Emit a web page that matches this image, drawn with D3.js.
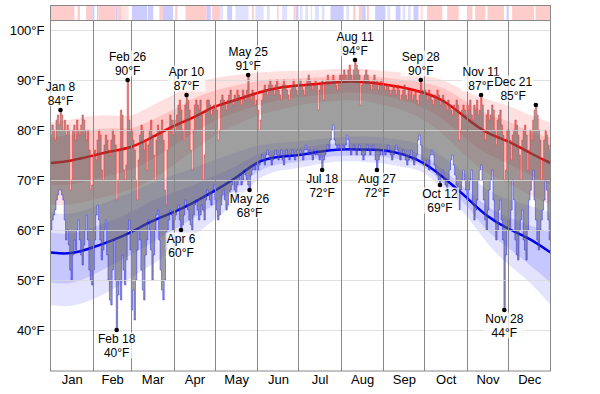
<!DOCTYPE html>
<html><head><meta charset="utf-8">
<script src="https://cdn.jsdelivr.net/npm/d3@7"></script>
<style>body{margin:0;background:#fff}svg{display:block;font-family:"Liberation Sans",Arial,sans-serif}</style>
</head><body><svg id="c" width="600" height="394"></svg>
<script>
// ---------- data ----------
const months=["Jan","Feb","Mar","Apr","May","Jun","Jul","Aug","Sep","Oct","Nov","Dec"];
const monthDays=[31,28,31,30,31,30,31,31,30,31,30,31];
const yTicks=[40,50,60,70,80,90,100];

const highJan=[79,81,80,78,82,83,81,84,83,80,82,79,81,80,68,70,80,81,78,82,80,79,81,83,82,80,78,80,76,68,69];
const lowJan =[60,62,63,64,66,67,68,68,67,66,62,58,60,57,52,50,55,58,56,60,62,58,55,53,57,60,63,58,52,50,49];
const highFeb=[75,76,74,78,80,79,72,70,77,79,78,76,75,78,80,79,77,66,70,76,84,83,72,70,73,90,82,80];
const lowFeb =[52,58,63,65,62,58,54,56,60,62,55,50,46,45,52,58,50,40,47,50,46,55,52,49,54,60,62,56];
const highMar=[80,78,76,70,66,74,79,81,80,76,78,72,77,80,82,79,75,70,78,81,80,79,82,78,68,65,76,80,83,82,79];
const lowMar =[44,48,42,50,56,60,58,52,48,46,55,58,62,60,56,50,55,60,63,64,58,52,48,46,50,56,60,62,64,63,60];
const highApr=[82,80,83,85,86,84,80,78,85,87,86,84,76,72,80,85,86,85,84,86,83,70,75,84,86,86,85,83,84,85];
const lowApr =[62,63,64,65,62,60,61,63,66,65,64,62,61,60,63,65,66,64,62,63,65,64,62,66,68,67,66,65,68,69];
const highMay=[85,84,78,80,86,87,86,85,84,86,87,88,86,85,87,86,88,87,86,85,88,87,86,88,91,87,86,88,87,85,86];
const lowMay =[66,64,62,63,65,67,68,66,64,65,67,68,69,70,68,66,69,70,71,69,70,72,71,70,69,68,71,72,73,72,73];
const highJun=[84,80,82,86,88,89,88,87,89,90,89,88,87,89,90,88,87,86,89,90,89,88,87,86,88,89,90,89,88,87];
const lowJun =[72,73,74,75,74,73,75,76,75,74,73,74,75,76,75,74,75,76,74,73,75,76,75,74,75,76,75,74,75,76];
const highJul=[89,90,89,88,87,89,90,91,90,89,88,89,90,89,84,88,89,90,86,89,90,91,90,89,90,91,90,89,88,90,91];
const lowJul =[75,76,75,74,76,77,76,75,76,75,74,76,75,76,75,74,75,72,74,75,76,77,76,78,80,81,78,77,76,77,76];
const highAug=[90,91,92,91,90,92,93,91,90,92,94,93,92,91,85,89,90,91,92,91,90,89,88,90,91,89,90,88,89,90,89];
const lowAug =[76,77,76,77,79,78,76,75,76,77,76,75,76,77,76,75,74,75,76,77,76,75,76,77,76,74,72,74,75,76,75];
const highSep=[89,88,89,89,88,87,88,89,88,87,89,88,86,87,88,89,87,86,88,87,88,86,87,88,86,85,87,90,88,87];
const lowSep =[76,75,76,77,76,75,74,75,76,77,76,75,74,75,76,75,74,73,74,75,76,74,73,74,75,78,79,77,74,73];
const highOct=[88,87,86,88,87,86,85,87,86,88,87,85,86,87,86,85,84,86,85,84,83,85,84,86,85,78,80,84,85,84,83];
const lowOct =[74,73,74,72,75,76,75,73,72,71,70,69,71,72,70,69,68,70,72,74,75,73,71,69,66,64,68,70,72,70,68];
const highNov=[85,84,86,83,82,85,84,86,83,84,87,85,80,78,83,84,82,83,85,84,80,77,82,83,84,81,79,70,72,80];
const lowNov =[66,68,70,72,65,62,64,66,70,72,73,70,66,62,60,64,68,70,72,66,62,58,60,64,66,62,58,44,55,60];
const highDec=[80,78,74,79,80,82,81,79,75,70,78,80,81,79,72,76,80,78,82,84,85,83,80,78,70,74,78,80,79,77,76];
const lowDec =[62,60,64,70,66,58,55,54,60,62,64,58,56,54,60,66,68,70,72,66,62,58,56,60,62,64,66,70,68,62,58];

// average + percentile bands, at these days of the year
const bandDays=[0,15,31,45,59,74,90,105,120,135,151,166,181,196,212,227,243,258,273,288,304,319,334,349,365];
const avgHigh=[73.4,73.8,74.9,75.8,76.4,78.5,80.9,82.5,84.9,85.9,87.5,88.5,88.9,89.2,89.7,89.7,89.2,88.5,87.5,85.9,82.2,79.2,77.9,75.5,73.4];
const avgLow =[55.5,55.1,56.5,57.9,59.5,61.9,63.5,65.5,67.9,70.2,73.9,74.7,74.9,75.7,76.2,76.1,76.1,75.2,73.5,70.3,66.5,62.5,60.2,58.5,55.5];
const hi90=[81.5,82,83,83,82.5,85,87,89.5,90.5,91,91.5,91.8,91.8,92,92.3,92.3,91.8,91.5,91,90,87.5,86,85,83,81.5];
const hi75=[78.5,79,80,80.5,80,82,84,86.5,88,89,89.8,90.2,90.3,90.6,91,91,90.5,90,89.5,88.5,85.5,83,82,79.5,78.5];
const hi25=[69,69,70,71,72,74,77,79.5,82,83.5,85,86,86.5,87,87.5,87.5,87,86,84.5,82,78,75,73.5,71,69];
const hi10=[65,65,66,67,68,70,73,76,79,81,83,84,85,85.5,86,86,85,84,82,79,74.5,71,69.5,67,65];
const lo90=[63.5,63,64.5,66,67.5,69.5,71,72.5,74,75.5,77,77.5,77.7,78.2,78.7,78.7,78.6,78,77,74.5,71,68,66,65,63.5];
const lo75=[59.5,59,60.5,62,63.5,66,67.5,69,71,72.5,75.5,76.2,76.4,77,77.5,77.4,77.4,76.6,75,71.8,68,64.5,62.5,61,59.5];
const lo25=[49.5,49,51,53,55,57.5,60,62.5,65,68,72,73.3,73.5,74.4,74.9,74.8,74.7,74,73,69,65,59.5,56.5,53.2,49.5];
const lo10=[45,44.5,46,48,50.5,53,56,59,62,65.5,70.5,72,72.3,73.3,73.8,73.7,73.4,72.5,72,67.5,63,57,53,50,45];

// record labels: [day of year, label, temp]
const recordHighs=[[7,"Jan 8",84],[56,"Feb 26",90],[99,"Apr 10",87],[144,"May 25",91],[222,"Aug 11",94],[270,"Sep 28",90],[314,"Nov 11",87],[354,"Dec 21",85]];
const recordLows=[[48,"Feb 18",40],[95,"Apr 6",60],[145,"May 26",68],[198,"Jul 18",72],[238,"Aug 27",72],[284,"Oct 12",69],[331,"Nov 28",44]];

// top strip: [start day, end day, kind]  r=warm b=cool p=slightly warm l=slightly cool
const stripSegs=[[0,17.5,"r"],[19.7,21.5,"r"],[26,30.5,"r"],[30.5,32,"b"],[34,35,"b"],[35,47.5,"r"],[47.5,49,"b"],[49,52,"r"],[52,57,"p"],[59.5,70.5,"b"],[71,75,"b"],[79.5,82,"r"],[82,89.5,"b"],[91,92.5,"r"],[98.5,114,"r"],[114,117,"b"],[118,124,"r"],[124,126,"l"],[129,132.6,"b"],[135,144.6,"l"],[147,148.4,"r"],[149.6,155.6,"l"],[158,160,"l"],[165.5,166.5,"r"],[169,172.8,"l"],[177.5,178.8,"r"],[179,181,"b"],[182,184,"l"],[186,188,"l"],[190,191,"l"],[193,196,"l"],[198,200,"l"],[204.4,214,"b"],[216,218,"l"],[221,222.6,"r"],[225,227.5,"r"],[227.5,230,"b"],[231,232.4,"r"],[237,244.5,"b"],[246,248,"l"],[252,255.5,"b"],[257,259,"l"],[261,263,"l"],[265,268.6,"b"],[270,272,"p"],[275,286,"r"],[289.6,298,"r"],[304,308,"r"],[310,317.5,"r"],[319,331,"r"],[333,334.5,"b"],[337,353,"r"],[354,365,"r"]];

// ---------- build ----------
const highs=[].concat(highJan,highFeb,highMar,highApr,highMay,highJun,highJul,highAug,highSep,highOct,highNov,highDec);
const lows=[].concat(lowJan,lowFeb,lowMar,lowApr,lowMay,lowJun,lowJul,lowAug,lowSep,lowOct,lowNov,lowDec);
const daily=highs.map((h,i)=>({d:i,hi:h,lo:lows[i]}));
daily.push({d:365,hi:highs[364],lo:lows[364]});
const bands=bandDays.map((d,i)=>({d,ah:avgHigh[i],al:avgLow[i],h90:hi90[i],h75:hi75[i],h25:hi25[i],h10:hi10[i],l90:lo90[i],l75:lo75[i],l25:lo25[i],l10:lo10[i]}));

const L=50.5,R=550.5,T=20.5,B=371;
const x=d3.scaleLinear().domain([0,365]).range([L,R]);
const y=d3.scaleLinear().domain([31.8,101.8]).range([B,21]);
const svg=d3.select("#c");
svg.append("defs").append("clipPath").attr("id","pc").append("rect").attr("x",L).attr("y",T).attr("width",R-L).attr("height",B-T);
const g=svg.append("g").attr("clip-path","url(#pc)");

const band=(a,b)=>d3.area().curve(d3.curveBasis).x(d=>x(d.d)).y0(d=>y(d[a])).y1(d=>y(d[b]));
g.append("path").datum(bands).attr("d",band("h10","h90")).attr("fill","rgb(255,0,0)").attr("fill-opacity",0.12);
g.append("path").datum(bands).attr("d",band("h25","h75")).attr("fill","rgb(255,0,0)").attr("fill-opacity",0.13);
g.append("path").datum(bands).attr("d",band("l10","l90")).attr("fill","rgb(0,0,255)").attr("fill-opacity",0.11);
g.append("path").datum(bands).attr("d",band("l25","l75")).attr("fill","rgb(0,0,255)").attr("fill-opacity",0.12);

const avgLine=k=>d3.line().curve(d3.curveBasis).x(d=>x(d.d)).y(d=>y(d[k]));
g.append("path").datum(bands).attr("d",avgLine("ah")).attr("fill","none").attr("stroke","rgb(240,0,0)").attr("stroke-width",2.5);
g.append("path").datum(bands).attr("d",avgLine("al")).attr("fill","none").attr("stroke","rgb(0,0,240)").attr("stroke-width",2.5);

g.append("path").datum(daily).attr("d",d3.area().curve(d3.curveStepAfter).x(d=>x(d.d)).y0(d=>y(d.lo)).y1(d=>y(d.hi)))
 .attr("fill","rgb(90,90,90)").attr("fill-opacity",0.58);
g.append("path").datum(daily).attr("d",d3.line().curve(d3.curveStepAfter).x(d=>x(d.d)).y(d=>y(d.hi)))
 .attr("fill","none").attr("stroke","rgba(255,40,40,0.5)").attr("stroke-width",1);
g.append("path").datum(daily).attr("d",d3.line().curve(d3.curveStepAfter).x(d=>x(d.d)).y(d=>y(d.lo)))
 .attr("fill","none").attr("stroke","rgba(40,40,255,0.5)").attr("stroke-width",1);

// grid
g.selectAll(".hg").data(yTicks).enter().append("line").attr("x1",L).attr("x2",R)
 .attr("y1",d=>Math.round(y(d))+0.5).attr("y2",d=>Math.round(y(d))+0.5).attr("stroke","#d8d8d8").attr("stroke-opacity",0.8);
const mStart=[];let acc=0;monthDays.forEach(n=>{mStart.push(acc);acc+=n;});
svg.selectAll(".vg").data(mStart.slice(1)).enter().append("line").attr("x1",d=>Math.round(x(d))+0.5).attr("x2",d=>Math.round(x(d))+0.5)
 .attr("y1",T).attr("y2",B).attr("stroke","#888");
svg.append("rect").attr("x",L).attr("y",T).attr("width",R-L).attr("height",B-T).attr("fill","none").attr("stroke","#888");

// strip
const stripCol={r:"#ffcccc",b:"#ccccff",p:"#ffe2e2",l:"#e0e0ff"};
svg.selectAll(".st").data(stripSegs).enter().append("rect").attr("x",d=>x(d[0])).attr("width",d=>x(d[1])-x(d[0]))
 .attr("y",6).attr("height",14).attr("fill",d=>stripCol[d[2]]);
svg.append("rect").attr("x",L).attr("y",5.5).attr("width",R-L).attr("height",15).attr("fill","none").attr("stroke","#888");

// axes
const ya=svg.append("g").attr("transform",`translate(${L},0)`).call(d3.axisLeft(y).tickValues(yTicks).tickSize(0).tickPadding(6).tickFormat(d=>d+"°F"));
ya.select(".domain").remove();
ya.selectAll("text").attr("font-size",13).attr("font-family","Liberation Sans, Arial, sans-serif").attr("fill","#000");
const mids=mStart.map((s,i)=>s+monthDays[i]/2);
const xa=svg.append("g").attr("transform",`translate(0,${B})`).call(d3.axisBottom(x).tickValues(mids).tickSize(0).tickPadding(4).tickFormat((d,i)=>months[i]));
xa.select(".domain").remove();
xa.selectAll("text").attr("font-size",13).attr("font-family","Liberation Sans, Arial, sans-serif").attr("fill","#000");

// records
function rec(list,isHigh){
  list.forEach(([d,lab,t])=>{
    const cx=x(d+0.3), cy=y(t);
    const grp=svg.append("g");
    const bg=grp.append("rect").attr("fill","#fff").attr("fill-opacity",0.75);
    const t1=grp.append("text").attr("font-size",12).attr("text-anchor","middle").attr("fill","#000")
      .attr("x",cx).attr("y",isHigh?cy-19.5:cy+12.5).text(lab);
    const t2=grp.append("text").attr("font-size",12).attr("text-anchor","middle").attr("fill","#000")
      .attr("x",cx).attr("y",isHigh?cy-5.5:cy+26.5).text(t+"°F");
    const bbOf=()=>{const a=t1.node().getBBox(),b=t2.node().getBBox();
      const x0=Math.min(a.x,b.x),x1=Math.max(a.x+a.width,b.x+b.width);return {x:x0,w:x1-x0,y:a.y,h:b.y+b.height-a.y};};
    let bb=bbOf();
    const maxR=R-18;
    if(bb.x+bb.w>maxR){const sh=bb.x+bb.w-maxR;t1.attr("x",cx-sh);t2.attr("x",cx-sh);bb=bbOf();}
    bg.attr("x",bb.x-1).attr("y",bb.y+1).attr("width",bb.w+2).attr("height",bb.h-2);
    svg.append("circle").attr("cx",cx).attr("cy",cy).attr("r",2.3).attr("fill","#000");
  });
}
rec(recordHighs,true);
rec(recordLows,false);
</script></body></html>
